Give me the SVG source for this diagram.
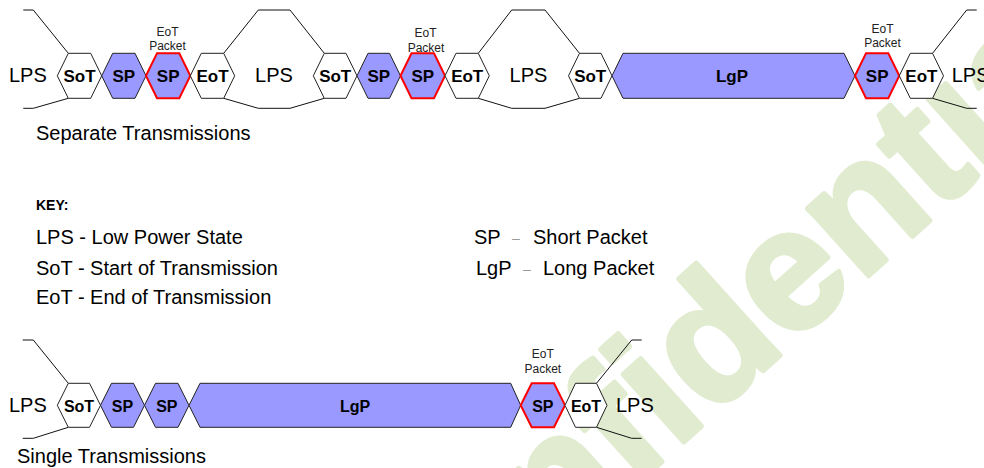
<svg xmlns="http://www.w3.org/2000/svg" width="984" height="468" viewBox="0 0 984 468">
  <style>
    .hex { stroke: #222; stroke-width: 1; stroke-linejoin: miter; }
    .plain { fill: #ffffff; }
    .pkt { fill: #9999ff; }
    .eot { fill: #9999ff; stroke: #ff0000; stroke-width: 2; }
    .lps { fill: none; stroke: #111; stroke-width: 1; }
    .lbl { font-family: "Liberation Sans", Arial, sans-serif; font-weight: bold; font-size: 17px; text-anchor: middle; fill: #000; }
    .lbl2 { font-family: "Liberation Sans", Arial, sans-serif; font-weight: bold; font-size: 16px; text-anchor: middle; fill: #000; }
    .state { font-family: "Liberation Sans", Arial, sans-serif; font-size: 20px; fill: #000; }
    .note { font-family: "Liberation Sans", Arial, sans-serif; font-size: 12px; text-anchor: middle; fill: #222; }
    .key { font-family: "Liberation Sans", Arial, sans-serif; font-size: 20px; fill: #000; }
    .dash { font-family: "Liberation Sans", Arial, sans-serif; font-size: 14px; fill: #999; }
    .mark { font-family: "Liberation Sans", Arial, sans-serif; font-weight: bold; font-size: 172px; fill: #e0ebcf; stroke: #e0ebcf; stroke-width: 5; stroke-linejoin: round; }
  </style>

  <rect width="984" height="468" fill="#ffffff"/>

  <!-- background stamp -->
  <text class="mark" transform="translate(384 712) rotate(-42)">Confidential</text>

  <!-- low power state envelopes -->
  <g id="connectors">
    <polyline class="lps" points="23.3,10 33.3,10 68.3,53.3"/>
    <polyline class="lps" points="23.3,108.3 33.3,108.3 68.3,98.3"/>
    <polyline class="lps" points="223.7,53.3 258.3,10 290,10 324.3,53.3"/>
    <polyline class="lps" points="223.7,98.3 258.3,108.3 290,108.3 324.3,98.3"/>
    <polyline class="lps" points="478.3,53.3 511.7,10 545,10 579.5,53.3"/>
    <polyline class="lps" points="478.3,98.3 511.7,108.3 545,108.3 579.5,98.3"/>
    <polyline class="lps" points="932.5,53.3 966.7,10 976.7,10"/>
    <polyline class="lps" points="932.5,98.3 966.7,108.3 976.7,108.3"/>

    <polyline class="lps" points="22.7,340 33.3,340 68.3,383.3"/>
    <polyline class="lps" points="22.7,438.3 33.3,438.3 68.3,427.3"/>
    <polyline class="lps" points="596.5,383.3 631.7,340 641.7,340"/>
    <polyline class="lps" points="596.5,427.3 631.7,438.3 641.7,438.3"/>
  </g>

  <!-- Separate transmissions row -->
  <g id="lps-a1"><text class="state" x="9" y="82">LPS</text></g>
  <g id="sot-a1">
    <polygon class="hex plain" points="57.3,75.8 68.3,53.3 90.7,53.3 101.7,75.8 90.7,98.3 68.3,98.3"/>
    <text class="lbl" x="79.5" y="82">SoT</text>
  </g>
  <g id="sp-a1">
    <polygon class="hex pkt" points="101.7,75.8 112.7,53.3 135,53.3 146,75.8 135,98.3 112.7,98.3"/>
    <text class="lbl" x="123.8" y="82">SP</text>
  </g>
  <g id="sp-a2">
    <polygon class="eot" points="146,75.8 157,53.3 179.3,53.3 190.3,75.8 179.3,98.3 157,98.3"/>
    <text class="lbl" x="168.2" y="82">SP</text>
    <text class="note" x="167.5" y="36">EoT</text>
    <text class="note" x="167.5" y="50">Packet</text>
  </g>
  <g id="eot-a1">
    <polygon class="hex plain" points="190.3,75.8 201.3,53.3 223.7,53.3 234.7,75.8 223.7,98.3 201.3,98.3"/>
    <text class="lbl" x="212.5" y="82">EoT</text>
  </g>
  <g id="lps-a2"><text class="state" x="274" y="82" text-anchor="middle">LPS</text></g>
  <g id="sot-a2">
    <polygon class="hex plain" points="313.3,75.8 324.3,53.3 346,53.3 357,75.8 346,98.3 324.3,98.3"/>
    <text class="lbl" x="335.2" y="82">SoT</text>
  </g>
  <g id="sp-a3">
    <polygon class="hex pkt" points="357,75.8 368,53.3 389.5,53.3 400.5,75.8 389.5,98.3 368,98.3"/>
    <text class="lbl" x="378.8" y="82">SP</text>
  </g>
  <g id="sp-a4">
    <polygon class="eot" points="400.5,75.8 411.5,53.3 434,53.3 445,75.8 434,98.3 411.5,98.3"/>
    <text class="lbl" x="422.8" y="82">SP</text>
    <text class="note" x="425.5" y="37">EoT</text>
    <text class="note" x="426" y="51.5">Packet</text>
  </g>
  <g id="eot-a2">
    <polygon class="hex plain" points="445,75.8 456,53.3 478.3,53.3 489.3,75.8 478.3,98.3 456,98.3"/>
    <text class="lbl" x="467.2" y="82">EoT</text>
  </g>
  <g id="lps-a3"><text class="state" x="528.5" y="82" text-anchor="middle">LPS</text></g>
  <g id="sot-a3">
    <polygon class="hex plain" points="568.5,75.8 579.5,53.3 601,53.3 612,75.8 601,98.3 579.5,98.3"/>
    <text class="lbl" x="590.2" y="82">SoT</text>
  </g>
  <g id="lgp-a1">
    <polygon class="hex pkt" points="612,75.8 623,53.3 844,53.3 855,75.8 844,98.3 623,98.3"/>
    <text class="lbl" x="732" y="82">LgP</text>
  </g>
  <g id="sp-a5">
    <polygon class="eot" points="855,75.8 866,53.3 888.3,53.3 899.3,75.8 888.3,98.3 866,98.3"/>
    <text class="lbl" x="877.2" y="82">SP</text>
    <text class="note" x="882.5" y="32.5">EoT</text>
    <text class="note" x="882.5" y="47">Packet</text>
  </g>
  <g id="eot-a3">
    <polygon class="hex plain" points="899.3,75.8 910.3,53.3 932.5,53.3 943.5,75.8 932.5,98.3 910.3,98.3"/>
    <text class="lbl" x="921.4" y="82">EoT</text>
  </g>
  <g id="lps-a4"><text class="state" x="951.7" y="82">LPS</text></g>
  <g id="caption-a"><text class="state" x="36" y="140">Separate Transmissions</text></g>

  <!-- key -->
  <g id="key">
    <text x="36" y="210" font-family="Liberation Sans, Arial, sans-serif" font-weight="bold" font-size="14">KEY:</text>
    <text class="key" x="36" y="244">LPS - Low Power State</text>
    <text class="key" x="36" y="275">SoT - Start of Transmission</text>
    <text class="key" x="36" y="304">EoT - End of Transmission</text>
    <text class="key" x="474" y="244">SP</text>
    <text class="dash" x="512" y="243">–</text>
    <text class="key" x="533" y="244">Short Packet</text>
    <text class="key" x="476" y="275">LgP</text>
    <text class="dash" x="523" y="274">–</text>
    <text class="key" x="543" y="275">Long Packet</text>
  </g>

  <!-- Single transmission row -->
  <g id="lps-b1"><text class="state" x="9" y="412">LPS</text></g>
  <g id="sot-b1">
    <polygon class="hex plain" points="57.3,405.3 68.3,383.3 89.5,383.3 100.5,405.3 89.5,427.3 68.3,427.3"/>
    <text class="lbl2" x="79" y="411.5">SoT</text>
  </g>
  <g id="sp-b1">
    <polygon class="hex pkt" points="100.5,405.3 111.5,383.3 133.5,383.3 144.5,405.3 133.5,427.3 111.5,427.3"/>
    <text class="lbl2" x="122.5" y="411.5">SP</text>
  </g>
  <g id="sp-b2">
    <polygon class="hex pkt" points="144.5,405.3 155.5,383.3 178,383.3 189,405.3 178,427.3 155.5,427.3"/>
    <text class="lbl2" x="166.8" y="411.5">SP</text>
  </g>
  <g id="lgp-b1">
    <polygon class="hex pkt" points="189,405.3 200,383.3 510.7,383.3 520.7,405.3 510.7,427.3 200,427.3"/>
    <text class="lbl2" x="355" y="411.5">LgP</text>
  </g>
  <g id="sp-b3">
    <polygon class="eot" points="520.7,405.3 531.7,383.3 554,383.3 565,405.3 554,427.3 531.7,427.3"/>
    <text class="lbl2" x="542.8" y="411.5">SP</text>
    <text class="note" x="542.8" y="357.7">EoT</text>
    <text class="note" x="542.8" y="372.7">Packet</text>
  </g>
  <g id="eot-b1">
    <polygon class="hex plain" points="565,405.3 575.5,383.3 596.5,383.3 607,405.3 596.5,427.3 575.5,427.3"/>
    <text class="lbl2" x="586" y="411.5">EoT</text>
  </g>
  <g id="lps-b2"><text class="state" x="616" y="412">LPS</text></g>
  <g id="caption-b"><text class="state" x="17" y="463">Single Transmissions</text></g>
</svg>
